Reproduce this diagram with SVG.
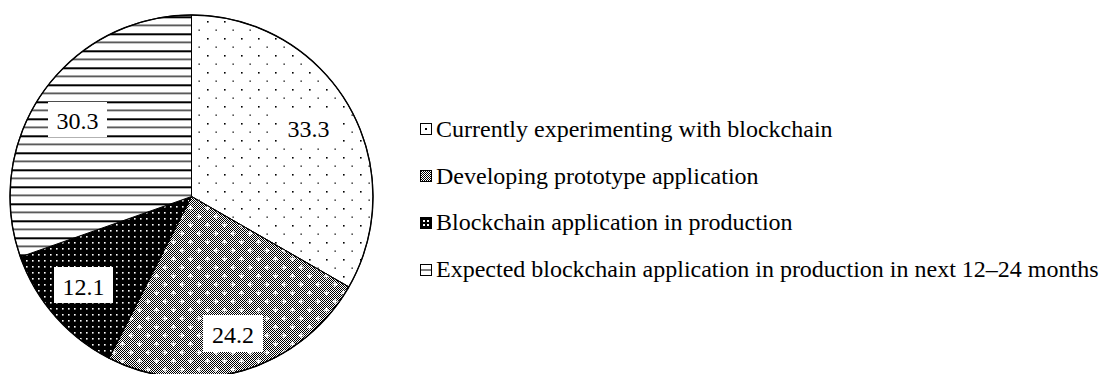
<svg xmlns="http://www.w3.org/2000/svg" width="1100" height="374" viewBox="0 0 1100 374">
<style>
  .lbl { font-family: "Liberation Serif", "Times New Roman", "DejaVu Serif", serif; font-size: 24px; fill: #000; }
  .leg { font-family: "Liberation Serif", "Times New Roman", "DejaVu Serif", serif; font-size: 24px; fill: #000; }
  .edge { stroke: #000; stroke-width: 1; stroke-linejoin: round; }
  .box { fill: #fff; stroke: none; }
  .ico { stroke: #000; stroke-width: 1; }
</style>
<defs>
  <pattern id="pDots" patternUnits="userSpaceOnUse" x="0" y="0" width="17" height="17">
    <rect width="17" height="17" fill="#fff"/>
    <rect x="3" y="4" width="1.6" height="1.6" fill="#000"/>
    <rect x="11.5" y="12.5" width="1.3" height="1.3" fill="#000"/>
  </pattern>
  <pattern id="pChecker" patternUnits="userSpaceOnUse" x="0" y="0" width="2" height="2">
    <rect width="2" height="2" fill="#fff"/>
    <rect x="0" y="0" width="1" height="1" fill="#000"/>
    <rect x="1" y="1" width="1" height="1" fill="#000"/>
  </pattern>
  <pattern id="pPlus" patternUnits="userSpaceOnUse" x="0" y="0" width="17" height="17">
    <path d="M1,4 h5 M3.5,1.5 v5 M9.5,12.5 h5 M12,10 v5" stroke="#fff" stroke-width="1.4" fill="none"/>
  </pattern>
  <pattern id="pBlackDots" patternUnits="userSpaceOnUse" x="0" y="0" width="6" height="6">
    <rect width="6" height="6" fill="#000"/>
    <rect x="2" y="2" width="1.6" height="1.6" fill="#fff"/>
  </pattern>
  <pattern id="pLines" patternUnits="userSpaceOnUse" x="0" y="16.3" width="17" height="17">
    <rect width="17" height="17" fill="#fff"/>
    <rect x="0" y="0" width="17" height="2" fill="#000"/>
    <rect x="0" y="8.5" width="17" height="1.2" fill="#000"/>
  </pattern>
</defs>

<g id="connectors">
</g>

<g id="slice-experimenting">
  <path class="edge" fill="url(#pDots)" d="M191.5,196.5 L191.5,15 A181.5,181.5 0 0 1 348.87,286.92 Z"/>
</g>
<g id="slice-prototype">
  <path class="edge" fill="url(#pChecker)" d="M191.5,196.5 L348.87,286.92 A181.5,181.5 0 0 1 109.10,358.22 Z"/>
  <path fill="url(#pPlus)" stroke="none" d="M191.5,196.5 L348.87,286.92 A181.5,181.5 0 0 1 109.10,358.22 Z"/>
  <path class="edge" fill="none" d="M191.5,196.5 L348.87,286.92 A181.5,181.5 0 0 1 109.10,358.22 Z"/>
</g>
<g id="slice-production">
  <path class="edge" fill="url(#pBlackDots)" d="M191.5,196.5 L109.10,358.22 A181.5,181.5 0 0 1 20.35,256.91 Z"/>
</g>
<g id="slice-expected">
  <path class="edge" fill="url(#pLines)" d="M191.5,196.5 L20.35,256.91 A181.5,181.5 0 0 1 191.5,15 Z"/>
</g>
<circle cx="191.5" cy="196.5" r="181.5" fill="none" stroke="#000" stroke-width="1.4"/>

<g id="label-33">
  <rect class="box" x="279" y="111" width="59" height="36"/>
  <text class="lbl" x="308.5" y="137" text-anchor="middle" font-family="Liberation Serif, serif">33.3</text>
</g>
<g id="label-24">
  <rect class="box" x="203" y="315" width="60" height="37"/>
  <text class="lbl" x="233" y="343" text-anchor="middle" font-family="Liberation Serif, serif">24.2</text>
</g>
<g id="label-12">
  <rect class="box" x="54" y="267" width="59" height="36"/>
  <text class="lbl" x="83.5" y="295" text-anchor="middle" font-family="Liberation Serif, serif">12.1</text>
</g>
<g id="label-30">
  <rect class="box" x="48" y="102" width="59" height="35"/>
  <text class="lbl" x="77.5" y="129" text-anchor="middle" font-family="Liberation Serif, serif">30.3</text>
</g>

<g id="legend-experimenting">
  <rect class="ico" x="420.5" y="123.5" width="11" height="11" fill="#fff"/>
  <rect x="425" y="128" width="2" height="2" fill="#000"/>
  <text class="leg" x="436" y="137" font-family="Liberation Serif, serif">Currently experimenting with blockchain</text>
</g>
<g id="legend-prototype">
  <rect class="ico" x="420.5" y="170.5" width="11" height="11" fill="url(#pChecker)"/>
  <text class="leg" x="436" y="183.5" font-family="Liberation Serif, serif">Developing prototype application</text>
</g>
<g id="legend-production">
  <rect class="ico" x="420.5" y="217.5" width="11" height="11" fill="#000"/>
  <rect x="423" y="220" width="2" height="2" fill="#fff"/>
  <rect x="427" y="224" width="2" height="2" fill="#fff"/>
  <rect x="423" y="224" width="2" height="2" fill="#fff"/>
  <rect x="427" y="220" width="2" height="2" fill="#fff"/>
  <text class="leg" x="436" y="230" font-family="Liberation Serif, serif">Blockchain application in production</text>
</g>
<g id="legend-expected">
  <rect class="ico" x="420.5" y="264.5" width="11" height="11" fill="#fff"/>
  <line x1="421" y1="270" x2="431" y2="270" stroke="#000" stroke-width="1"/>
  <text class="leg" x="436" y="277" font-family="Liberation Serif, serif">Expected blockchain application in production in next 12–24 months</text>
</g>
</svg>
